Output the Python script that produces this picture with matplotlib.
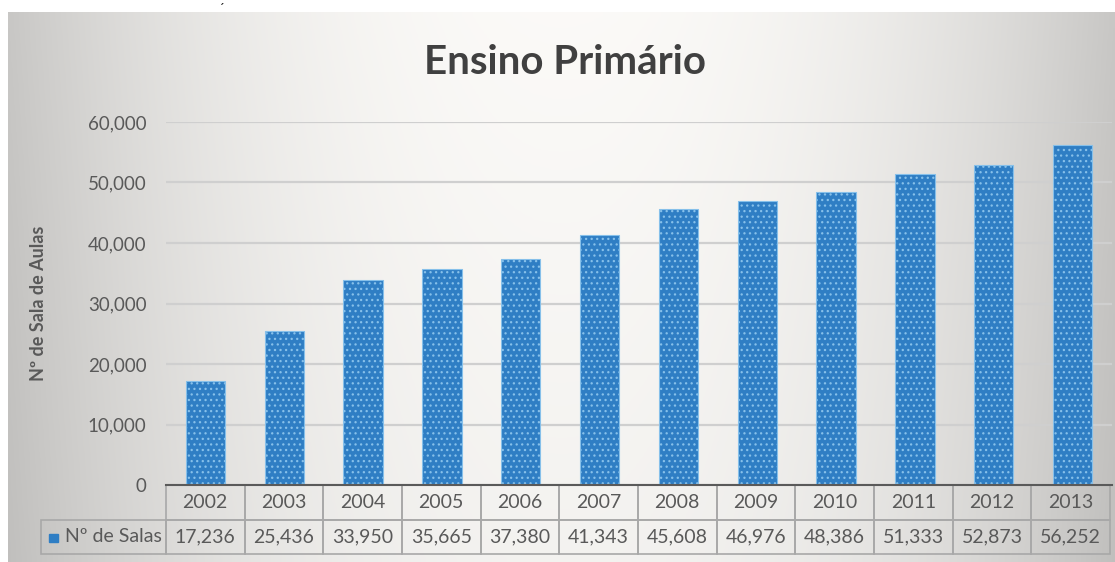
import numpy as np
import matplotlib.pyplot as plt
from matplotlib.patches import Rectangle

# dados
anos = ['2002', '2003', '2004', '2005', '2006', '2007',
        '2008', '2009', '2010', '2011', '2012', '2013']
salas = [17236, 25436, 33950, 35665, 37380, 41343,
         45608, 46976, 48386, 51333, 52873, 56252]
serie = 'Nº de Salas'
titulo = 'Ensino Primário'
ylabel = 'Nº de Sala de Aulas'

W, H = 1115, 562
plt.rcParams['font.family'] = ['Lato', 'DejaVu Sans']
plt.rcParams['hatch.linewidth'] = 0.9
fig = plt.figure(figsize=(W / 100, H / 100), dpi=100)

# fundo com gradiente
bg = fig.add_axes([8 / W, 0, (W - 8) / W, (H - 12) / H])
xx = np.linspace(-1, 1, 400)
yy = np.linspace(0, 1, 100)
X, Y = np.meshgrid(xx, yy)
g = 0.985 - 0.20 * np.abs(X) ** 2.2 - 0.03 * (1 - Y)
img = np.dstack([g, g * 0.995, g * 0.985])
bg.imshow(np.clip(img, 0, 1), aspect='auto', extent=[0, 1, 0, 1], origin='lower')
bg.set_axis_off()
fig.text(222 / W, 1 - 9 / H, '´', fontsize=10, color='#222222', ha='center', va='center')

ax = fig.add_axes([166 / W, 1 - 485 / H, (1112 - 166) / W, (485 - 122) / H])
ax.patch.set_alpha(0)
x = np.arange(len(anos))
ax.bar(x, salas, width=0.5, color='#2f7ec4', edgecolor='#86c0ea',
       linewidth=0.8, hatch='...', zorder=3)
ax.set_xlim(-0.5, len(anos) - 0.5)
ax.set_ylim(0, 60000)
ax.set_yticks(np.arange(0, 60001, 10000))
ax.set_yticklabels(['{:,}'.format(v) for v in range(0, 60001, 10000)])
ax.tick_params(axis='y', length=0, pad=14, labelsize=13.5, labelcolor='#595959')
ax.set_xticks([])
ax.grid(axis='y', color='#cfcfcf', linewidth=1.6, zorder=0)
for s in ['top', 'right', 'left']:
    ax.spines[s].set_visible(False)
ax.spines['bottom'].set_color('#5a5a5a')
ax.spines['bottom'].set_linewidth(1.5)
ax.spines['bottom'].set_zorder(4)

ax.set_ylabel(ylabel, fontsize=13, fontweight='bold', color='#595959')
ax.yaxis.set_label_coords((47 - 166) / (1112 - 166), 0.5)
fig.text(565 / W, 1 - 62 / H, titulo, fontsize=29, fontweight='bold',
         color='#404040', ha='center', va='center')

# tabela de dados
axw = 1112 - 166
axh = 485 - 122
cell_text = [[''] + anos, [serie] + ['{:,}'.format(v) for v in salas]]
colw = [125] + [78.75] * len(anos)
tb = ax.table(cellText=cell_text, colWidths=[c / sum(colw) for c in colw],
              cellLoc='center',
              bbox=[(41 - 166) / axw, -(555 - 486) / axh, (1110 - 41) / axw, (555 - 486) / axh])
tb.auto_set_font_size(False)
for (r, c), cell in tb.get_celld().items():
    cell.set_facecolor('none')
    cell.set_edgecolor('#a8a8a8')
    cell.set_linewidth(1.2)
    cell.get_text().set_fontsize(14)
    cell.get_text().set_color('#595959')
    if r == 0 and c == 0:
        cell.visible_edges = ''
    if r == 1 and c == 0:
        cell.get_text().set_ha('right')
        cell.PAD = 0.03
fig.add_artist(Rectangle((49 / W, 1 - 542 / H), 9 / W, 8 / H,
                         transform=fig.transFigure, color='#2f7ec4'))

fig.savefig('out.png', dpi=100)
